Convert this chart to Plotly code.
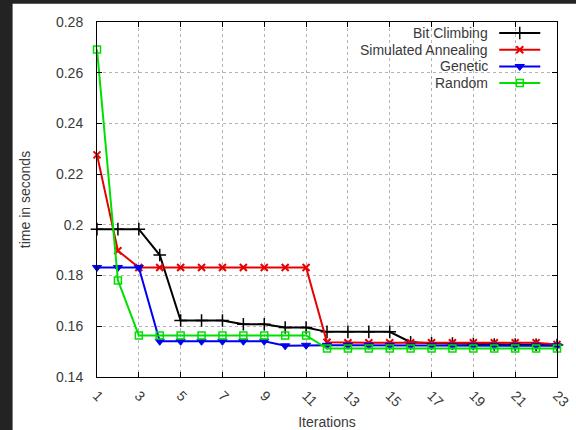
import plotly.graph_objects as go

iterations = list(range(1, 24))
bit_climbing = [0.1983, 0.1983, 0.1983, 0.1881, 0.1623, 0.1623, 0.1623, 0.1608, 0.1608, 0.1595, 0.1595,
                0.1578, 0.1578, 0.1578, 0.1578, 0.1537, 0.1533, 0.1532, 0.1530, 0.1528, 0.1528, 0.1527, 0.1526]
simulated_annealing = [0.2276, 0.1898, 0.1832, 0.1832, 0.1832, 0.1832, 0.1832, 0.1832, 0.1832, 0.1832, 0.1832,
                       0.1537, 0.1535, 0.1535, 0.1535, 0.1535, 0.1535, 0.1535, 0.1535, 0.1535, 0.1535, 0.1535, 0.1528]
genetic = [0.1832, 0.1832, 0.1832, 0.1541, 0.1541, 0.1541, 0.1541, 0.1541, 0.1541, 0.1523, 0.1525,
           0.1525, 0.1525, 0.1525, 0.1524, 0.1523, 0.1523, 0.1523, 0.1523, 0.1523, 0.1523, 0.1523, 0.1523]
random_search = [0.2692, 0.1781, 0.1564, 0.1564, 0.1564, 0.1564, 0.1564, 0.1564, 0.1564, 0.1564, 0.1564,
                 0.1512, 0.1512, 0.1512, 0.1512, 0.1512, 0.1512, 0.1512, 0.1512, 0.1512, 0.1512, 0.1512, 0.1512]

series_names = ["Bit Climbing", "Simulated Annealing", "Genetic", "Random"]
series_values = [bit_climbing, simulated_annealing, genetic, random_search]
colors = ["#000000", "#e80000", "#0000f0", "#00e000"]
symbols = ["cross-thin-open", "x-thin-open", "triangle-down", "square-open"]
sizes = [9, 7, 8, 7]
mline = [1.5, 2, 1, 1.5]
x_ticks = list(range(1, 24, 2))
y_ticks = [0.14, 0.16, 0.18, 0.2, 0.22, 0.24, 0.26, 0.28]

W, H = 576, 430
L, R, T, B = 97.3, 556.7, 22.3, 376.7
TXT = "#3a3a3a"
FONT = "Liberation Sans, Arial, sans-serif"

fig = go.Figure()
for name, vals, c, s, sz, mw in zip(series_names, series_values, colors, symbols, sizes, mline):
    fig.add_trace(go.Scatter(
        x=iterations, y=vals, mode="lines+markers", name=name,
        line=dict(color=c, width=2),
        marker=dict(symbol=s, size=sz, color=c, line=dict(color=c, width=mw)),
        showlegend=False, cliponaxis=False))

# legend (gnuplot style: text right-aligned, sample on right) on pixel overlay axes
row_y = [33.3, 50.0, 66.7, 83.3]
for name, c, s, sz, mw, yy in zip(series_names, colors, symbols, sizes, mline, row_y):
    fig.add_trace(go.Scatter(x=[499, 540], y=[yy, yy], mode="lines", xaxis="x2", yaxis="y2",
                             line=dict(color=c, width=2), showlegend=False, hoverinfo="skip"))
    fig.add_trace(go.Scatter(x=[519.5], y=[yy], mode="markers", xaxis="x2", yaxis="y2",
                             marker=dict(symbol=s, size=sz, color=c, line=dict(color=c, width=mw)),
                             showlegend=False, hoverinfo="skip"))
    fig.add_annotation(x=490, y=yy, xref="x2", yref="y2", text=name, showarrow=False,
                       xanchor="right", yanchor="middle", font=dict(size=14, color=TXT, family=FONT))

axis_common = dict(showline=True, linecolor="#000000", linewidth=1, mirror="ticks",
                   ticks="inside", ticklen=5, tickcolor="#000000", automargin=False,
                   showgrid=True, gridcolor="#b4b4b4", griddash="dot", gridwidth=1,
                   zeroline=False, tickfont=dict(size=14, color=TXT, family=FONT))

fig.update_layout(
    width=W, height=H,
    margin=dict(l=L, r=W - R, t=T, b=H - B, pad=0),
    paper_bgcolor="#232323", plot_bgcolor="rgba(0,0,0,0)",
    font=dict(family=FONT, size=14, color=TXT),
    xaxis=dict(range=[1, 23], tickvals=x_ticks, ticktext=[str(v) for v in x_ticks], tickangle=45,
               ticklabelstandoff=4,
               title=dict(text="Iterations", standoff=12, font=dict(size=14, color=TXT, family=FONT)),
               **axis_common),
    yaxis=dict(range=[0.14, 0.28], tickvals=y_ticks, ticktext=["0.14", "0.16", "0.18", "0.2", "0.22", "0.24", "0.26", "0.28"],
               ticklabelstandoff=10,
               title=dict(text="time in seconds", standoff=22, font=dict(size=14, color=TXT, family=FONT)),
               **axis_common),
    xaxis2=dict(overlaying="x", range=[L, R], visible=False, fixedrange=True),
    yaxis2=dict(overlaying="y", range=[B, T], visible=False, fixedrange=True),
    shapes=[
        dict(type="rect", xref="paper", yref="paper",
             x0=(13 - L) / (R - L), x1=(W - L) / (R - L),
             y0=(B - H) / (B - T), y1=(B - 4) / (B - T),
             fillcolor="#ffffff", line=dict(width=0), layer="below"),
        dict(type="rect", xref="paper", yref="paper",
             x0=(323 - L) / (R - L), x1=(554 - L) / (R - L),
             y0=(B - 92) / (B - T), y1=(B - 23.5) / (B - T),
             fillcolor="#ffffff", line=dict(width=0), layer="between"),
    ],
)

fig.write_html("out.html")
